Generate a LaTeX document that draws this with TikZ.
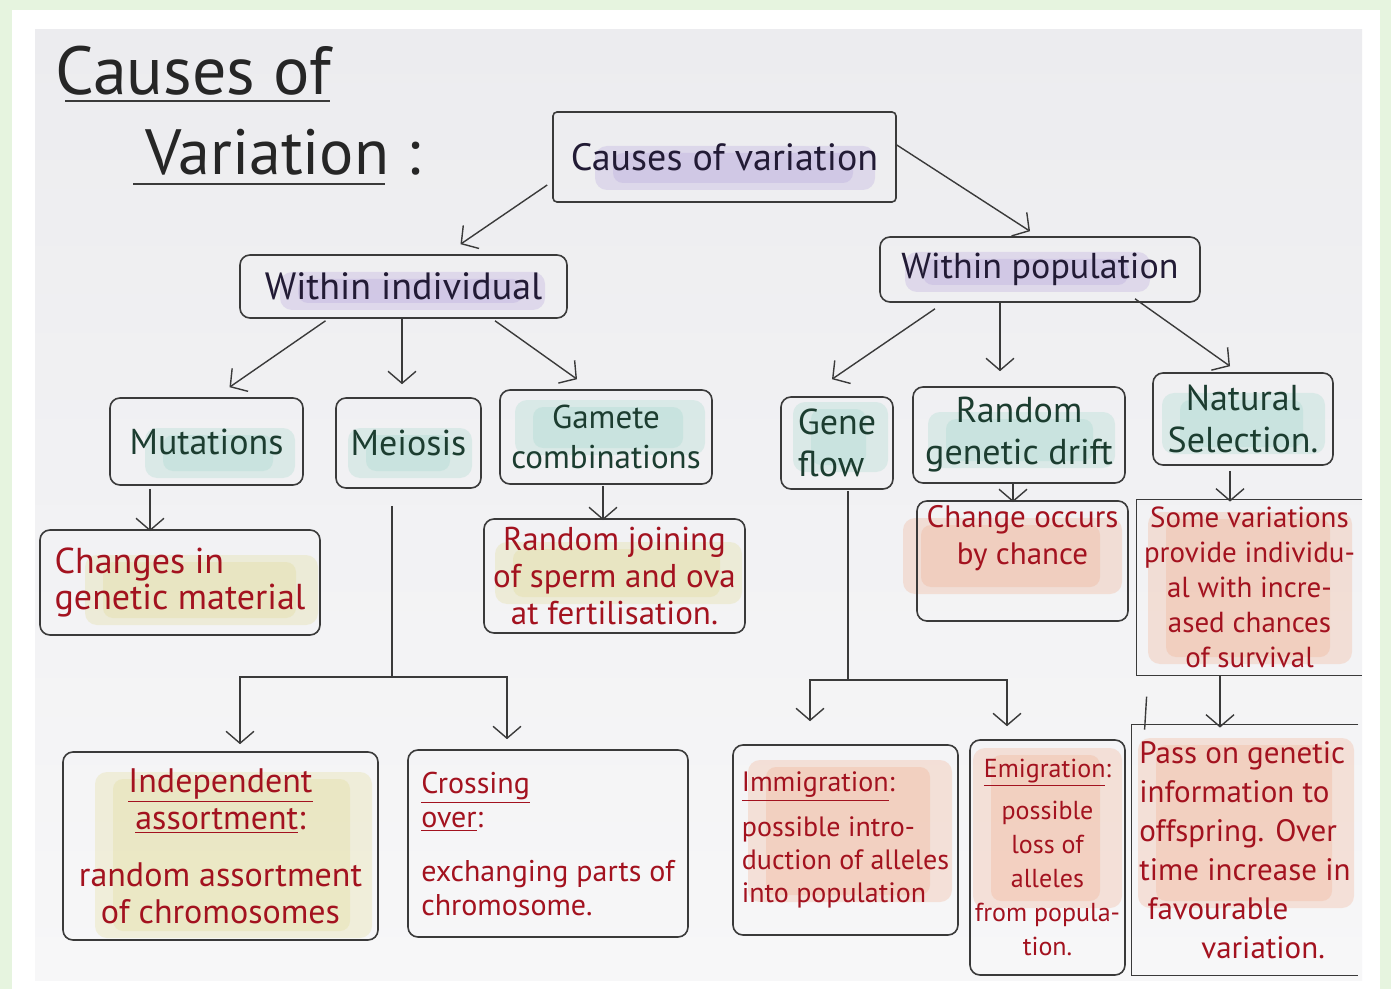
\documentclass[tikz,border=0pt]{standalone}
\usepackage{fontspec}
\setmainfont{PT Sans}
\usetikzlibrary{arrows.meta,calc}
\definecolor{bgc}{HTML}{E6F4DF}
\definecolor{papertop}{HTML}{ECECEF}
\definecolor{paperbot}{HTML}{F7F7F8}
\definecolor{linec}{HTML}{3A3A3A}
\definecolor{inkc}{HTML}{262626}
\definecolor{headc}{HTML}{221B35}
\definecolor{greenc}{HTML}{1C3D30}
\definecolor{redc}{HTML}{A3121F}
\definecolor{hlpurple}{HTML}{9A80D2}
\definecolor{hlteal}{HTML}{7FCDBB}
\definecolor{hlyellow}{HTML}{D8CF66}
\definecolor{hlorange}{HTML}{EF8C5C}
\newcommand{\fsz}[2]{\fontsize{#1}{#2}\selectfont}
\newcommand{\hlr}[5]{%
  \fill[#1, opacity=0.20, rounded corners=6pt] (#2,#3) rectangle (#4,#5);
  \fill[#1, opacity=0.18, rounded corners=5pt] ($(#2,#3)+(18,7)$) rectangle ($(#4,#5)+(-22,-7)$);}
\begin{document}
\begin{tikzpicture}[x=0.5pt,y=-0.5pt,
  box/.style={draw=linec, line width=0.8pt, rounded corners=5pt, inner sep=2pt, align=center},
  openbox/.style={inner sep=2pt, align=center},
  arr/.style={draw=linec, line width=0.7pt, -{Straight Barb[length=6pt,width=14pt,line width=0.7pt]}},
  ln/.style={draw=linec, line width=0.7pt},
  lvtwo/.style={box, text=greenc, font=\fsz{18}{21}},
  desc/.style={box, text=redc}]
\useasboundingbox (0,0) rectangle (1391,989);
\fill[bgc] (0,0) rectangle (1391,989);
\fill[white] (12,10) rectangle (1380,989);
\shade[top color=papertop, bottom color=paperbot] (35,30) rectangle (1362,980);

% highlights
\hlr{hlpurple}{595}{146}{875}{190}
\hlr{hlpurple}{280}{272}{545}{310}
\hlr{hlpurple}{905}{252}{1150}{292}
\hlr{hlteal}{145}{428}{295}{478}
\hlr{hlteal}{348}{428}{472}{478}
\hlr{hlteal}{515}{400}{705}{455}
\hlr{hlteal}{793}{402}{888}{472}
\hlr{hlteal}{928}{412}{1115}{468}
\hlr{hlteal}{1162}{393}{1325}{454}
\hlr{hlyellow}{85}{555}{318}{625}
\hlr{hlyellow}{495}{542}{742}{604}
\hlr{hlorange}{903}{518}{1122}{594}
\hlr{hlorange}{1148}{512}{1352}{664}
\hlr{hlyellow}{95}{772}{372}{938}
\hlr{hlorange}{748}{760}{952}{902}
\hlr{hlorange}{973}{748}{1122}{908}
\hlr{hlorange}{1138}{738}{1354}{908}

% title
\node[anchor=base west, text=inkc, font=\fsz{34}{38}, inner sep=0pt] (t1) at (55,95) {Causes of};
\node[anchor=base west, text=inkc, font=\fsz{32}{36}, inner sep=0pt] (t2) at (145,175) {Variation :};
\draw[ln] (65,101) -- (330,101);
\draw[ln] (133,184) -- (385,184);

% nodes
\node[box, rounded corners=2pt, minimum width=171.5pt, minimum height=45pt, text=headc, font=\fsz{19}{22}] (root) at (724.5,157) {Causes of variation};
\node[box, minimum width=163.5pt, minimum height=31.5pt, text=headc, font=\fsz{19}{22}] (wind) at (403.5,286.5) {Within individual};
\node[box, minimum width=160pt, minimum height=32.5pt, text=headc, font=\fsz{18}{22}] (wpop) at (1040,269.5) {Within population};

\node[lvtwo, minimum width=96.5pt, minimum height=43.5pt] (mut) at (206.5,441.5) {Mutations};
\node[lvtwo, minimum width=72.5pt, minimum height=45pt] (mei) at (408.5,443) {Meiosis};
\node[lvtwo, minimum width=106pt, minimum height=47pt, font=\fsz{16.5}{20}] (gam) at (606,437) {Gamete\\combinations};
\node[lvtwo, minimum width=56pt, minimum height=46pt, align=left] (gene) at (837,443) {Gene\\flow};
\node[lvtwo, minimum width=106pt, minimum height=48pt] (drift) at (1019,435) {Random\\genetic drift};
\node[lvtwo, minimum width=90pt, minimum height=46pt] (nat) at (1243,419) {Natural\\Selection.};

\node[desc, minimum width=140pt, minimum height=52.5pt, align=left, font=\fsz{18}{18}] (chg) at (180,582.5) {Changes in\\genetic material};
\node[desc, minimum width=130.5pt, minimum height=57pt, font=\fsz{16.5}{18.5}] (join) at (614.5,576) {Random joining\\of sperm and ova\\at fertilisation.};
\node[desc, minimum width=105.5pt, minimum height=51pt, font=\fsz{15.5}{18.5}] (chance) at (1022.5,561) {Change occurs\\by chance\\[8pt]};
\node[openbox, text=redc, minimum width=112.5pt, minimum height=87.5pt, font=\fsz{14.5}{17.5}] (some) at (1249.5,587.5) {Some variations\\provide individu-\\al with incre-\\ased chances\\of survival};
\draw[ln] (some.north east) -- (some.north west) -- (some.south west) -- (some.south east);

\node[desc, minimum width=157.5pt, minimum height=94pt, font=\fsz{17}{18.5}] (indep) at (220.5,846) {\underline{Independent}\\\underline{assortment}:\\[10pt]random assortment\\of chromosomes};
\node[desc, minimum width=140pt, minimum height=93.5pt, align=left, font=\fsz{15}{17}] (cross) at (548,843.5) {\underline{Crossing}\\\underline{over}:\\[10pt]exchanging parts of\\chromosome.};
\node[desc, minimum width=112.5pt, minimum height=95pt, align=left, font=\fsz{14}{16.5}] (immi) at (845.5,840) {\underline{Immigration}:\\[6pt]possible intro-\\duction of alleles\\into population};
\node[desc, inner sep=1pt, minimum width=77.5pt, minimum height=117.5pt, font=\fsz{13}{17}] (emi) at (1047.5,857.5) {\underline{Emigration}:\\[4pt]possible\\loss of\\alleles\\from popula-\\tion.};
\node[openbox, text=redc, align=left, minimum width=113pt, minimum height=125pt, font=\fsz{15.5}{19.5}] (pass) at (1245,850) {Pass on genetic\\information to\\offspring. Over\\time increase in\\\ favourable\\\qquad variation.};
\draw[ln] (pass.north east) -- (pass.north west) -- (pass.south west) -- (pass.south east);

% connectors
\draw[arr] ([shift={(-5,28)}]root.west) -- ([shift={(57,-10)}]wind.north);
\draw[arr] ([shift={(0,-12)}]root.east) -- ([shift={(-10,-5)}]wpop.north);
\draw[arr] ([shift={(-78,2)}]wind.south) -- ([shift={(23,-10)}]mut.north);
\draw[arr] ([shift={(-1.5,0)}]wind.south) -- ([shift={(-6.5,-13)}]mei.north);
\draw[arr] ([shift={(91.5,2)}]wind.south) -- ([shift={(-29,-10)}]gam.north);
\draw[arr] ([shift={(-105,6)}]wpop.south) -- ([shift={(-5,-17)}]gene.north);
\draw[arr] ([shift={(-40,0)}]wpop.south) -- ([shift={(-19,-15)}]drift.north);
\draw[arr] ([shift={(95,-4)}]wpop.south) -- ([shift={(-13,-6)}]nat.north);
\draw[arr] ([shift={(-56.5,3)}]mut.south) -- ([shift={(-30,2)}]chg.north);
\draw[arr] ([shift={(-3,1)}]gam.south) -- ([shift={(-11.5,2)}]join.north);
\draw[arr] ([shift={(-6,0)}]drift.south) -- ([shift={(-9.5,2)}]chance.north);
\draw[arr] ([shift={(-13,5)}]nat.south) -- ([shift={(-19.5,2)}]some.north);
\draw[arr] ([shift={(-29.5,0)}]some.south) -- ([shift={(-25,3)}]pass.north);

\coordinate (mfork) at (392,677);
\draw[ln] ([shift={(-16.5,17)}]mei.south) -- (mfork);
\draw[arr] (mfork) -| ([shift={(19.5,-7)}]indep.north);
\draw[arr] (mfork) -| ([shift={(-41,-10)}]cross.north);

\coordinate (gfork) at (848,680);
\draw[ln] ([shift={(11,1)}]gene.south) -- (gfork);
\draw[arr] (gfork) -| ([shift={(-35.5,-23)}]immi.north);
\draw[arr] (gfork) -| ([shift={(-40.5,-13)}]emi.north);

\draw[ln] ([shift={(15,-28)}]pass.north west) -- ([shift={(13,5)}]pass.north west);
\end{tikzpicture}
\end{document}
